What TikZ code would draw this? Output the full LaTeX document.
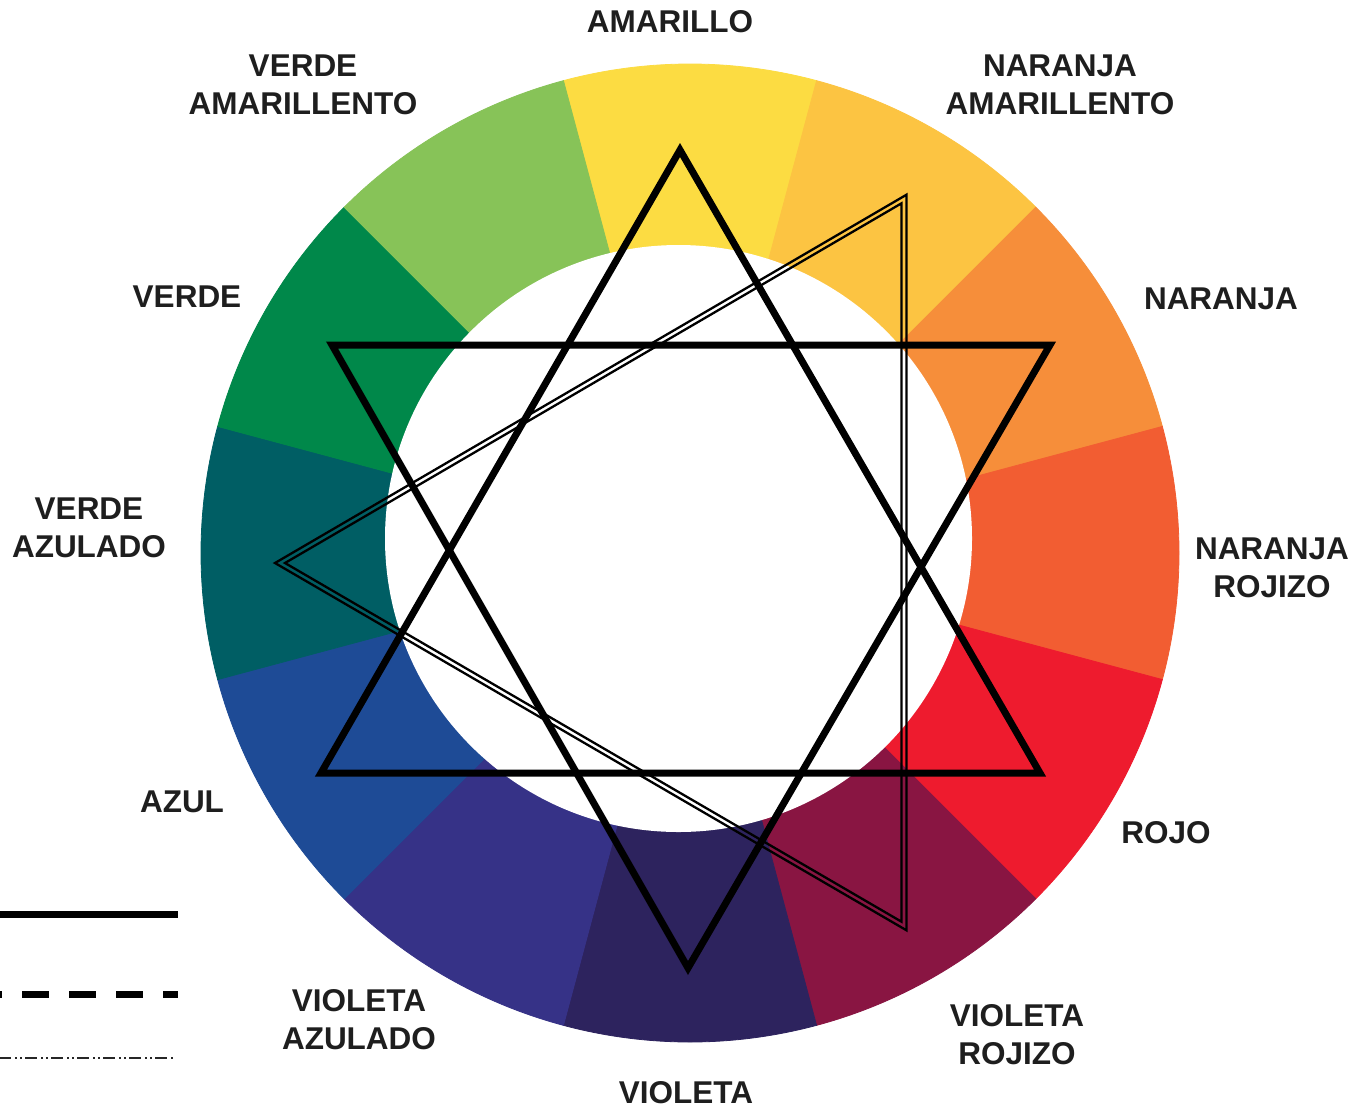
\documentclass[tikz,border=0pt]{standalone}
\usepackage{fontspec}
\setmainfont{Liberation Sans}
\definecolor{cAM}{HTML}{FCDC42}
\definecolor{cNAM}{HTML}{FCC442}
\definecolor{cNA}{HTML}{F68E3A}
\definecolor{cNR}{HTML}{F25D32}
\definecolor{cRO}{HTML}{EE1B2E}
\definecolor{cVR}{HTML}{891542}
\definecolor{cVI}{HTML}{2D235E}
\definecolor{cVAZ}{HTML}{363287}
\definecolor{cAZ}{HTML}{1E4B96}
\definecolor{cVEAZ}{HTML}{005E64}
\definecolor{cVE}{HTML}{00884A}
\definecolor{cVAM}{HTML}{87C358}
\definecolor{labc}{HTML}{1E1E1E}
\begin{document}
\begin{tikzpicture}[x=1pt,y=-1pt,
  lab/.style={font=\fontsize{31.5}{38}\selectfont\bfseries, text=labc, align=center, inner sep=0pt},
  starline/.style={draw=black, line width=7pt, line join=miter},
  dblline/.style={draw=black, line width=2.3pt, line join=miter},
  legline/.style={draw=black, line width=7pt}]
\useasboundingbox (0,0) rectangle (1354,1109);
\fill[white] (0,0) rectangle (1354,1109);
% colour wheel
\coordinate (C) at (690,553);
\foreach \a/\c in {270/cAM, 300/cNAM, 330/cNA, 0/cNR, 30/cRO, 60/cVR, 90/cVI, 120/cVAZ, 150/cAZ, 180/cVEAZ, 210/cVE, 240/cVAM}{
  \filldraw[fill=\c, draw=\c, line width=0.8pt] (C) -- ++(\a-15:489) arc[start angle=\a-15, end angle=\a+15, radius=489] -- cycle;
}
\coordinate (W) at (678.5,538.5);
\fill[white] (W) circle[radius=293.5];
% star of two triangles
\coordinate (u1) at (680,150);
\coordinate (u2) at (1040,773);
\coordinate (u3) at (321,773);
\draw[starline] (u1) -- (u2) -- (u3) -- cycle;
\coordinate (d1) at (332,345);
\coordinate (d2) at (1050,345);
\coordinate (d3) at (688,968);
\draw[starline] (d1) -- (d2) -- (d3) -- cycle;
% double-lined triangle
\coordinate (o1) at (906.5,194.7);
\coordinate (o2) at (275,563);
\coordinate (o3) at (906.5,930.3);
\draw[dblline] (o1) -- (o2) -- (o3) -- cycle;
\coordinate (i1) at (901.5,203.3);
\coordinate (i2) at (285,563);
\coordinate (i3) at (901.5,921.7);
\draw[dblline] (i1) -- (i2) -- (i3) -- cycle;
% legend lines
\coordinate (l1a) at (0,914);   \coordinate (l1b) at (178,914);
\coordinate (l2a) at (0,994);   \coordinate (l2b) at (178,994);
\coordinate (l3a) at (0,1058);  \coordinate (l3b) at (175,1058);
\draw[legline] (l1a) -- (l1b);
\draw[legline, dash pattern=on 27pt off 20pt, dash phase=25pt] (l2a) -- (l2b);
\draw[draw=black!85, line width=2pt, dash pattern=on 12pt off 4pt on 2pt off 3pt on 2pt off 3pt, dash phase=1pt] (l3a) -- (l3b);
% labels
\node[lab, anchor=base] (amarillo) at (670,32) {AMARILLO};
\node[lab] (verdeam) at (303,84.7) {VERDE\\AMARILLENTO};
\node[lab] (naranjaam) at (1060,84.7) {NARANJA\\AMARILLENTO};
\node[lab, anchor=base] (verde) at (187,307) {VERDE};
\node[lab, anchor=base] (naranja) at (1221,309) {NARANJA};
\node[lab] (verdeaz) at (89,527.5) {VERDE\\AZULADO};
\node[lab] (naranjaro) at (1272,567.7) {NARANJA\\ROJIZO};
\node[lab, anchor=base] (azul) at (182,812) {AZUL};
\node[lab, anchor=base] (rojo) at (1166,843) {ROJO};
\node[lab] (violetaaz) at (359,1019.7) {VIOLETA\\AZULADO};
\node[lab] (violetaro) at (1017,1034.7) {VIOLETA\\ROJIZO};
\node[lab, anchor=base] (violeta) at (686,1103) {VIOLETA};
\end{tikzpicture}
\end{document}
